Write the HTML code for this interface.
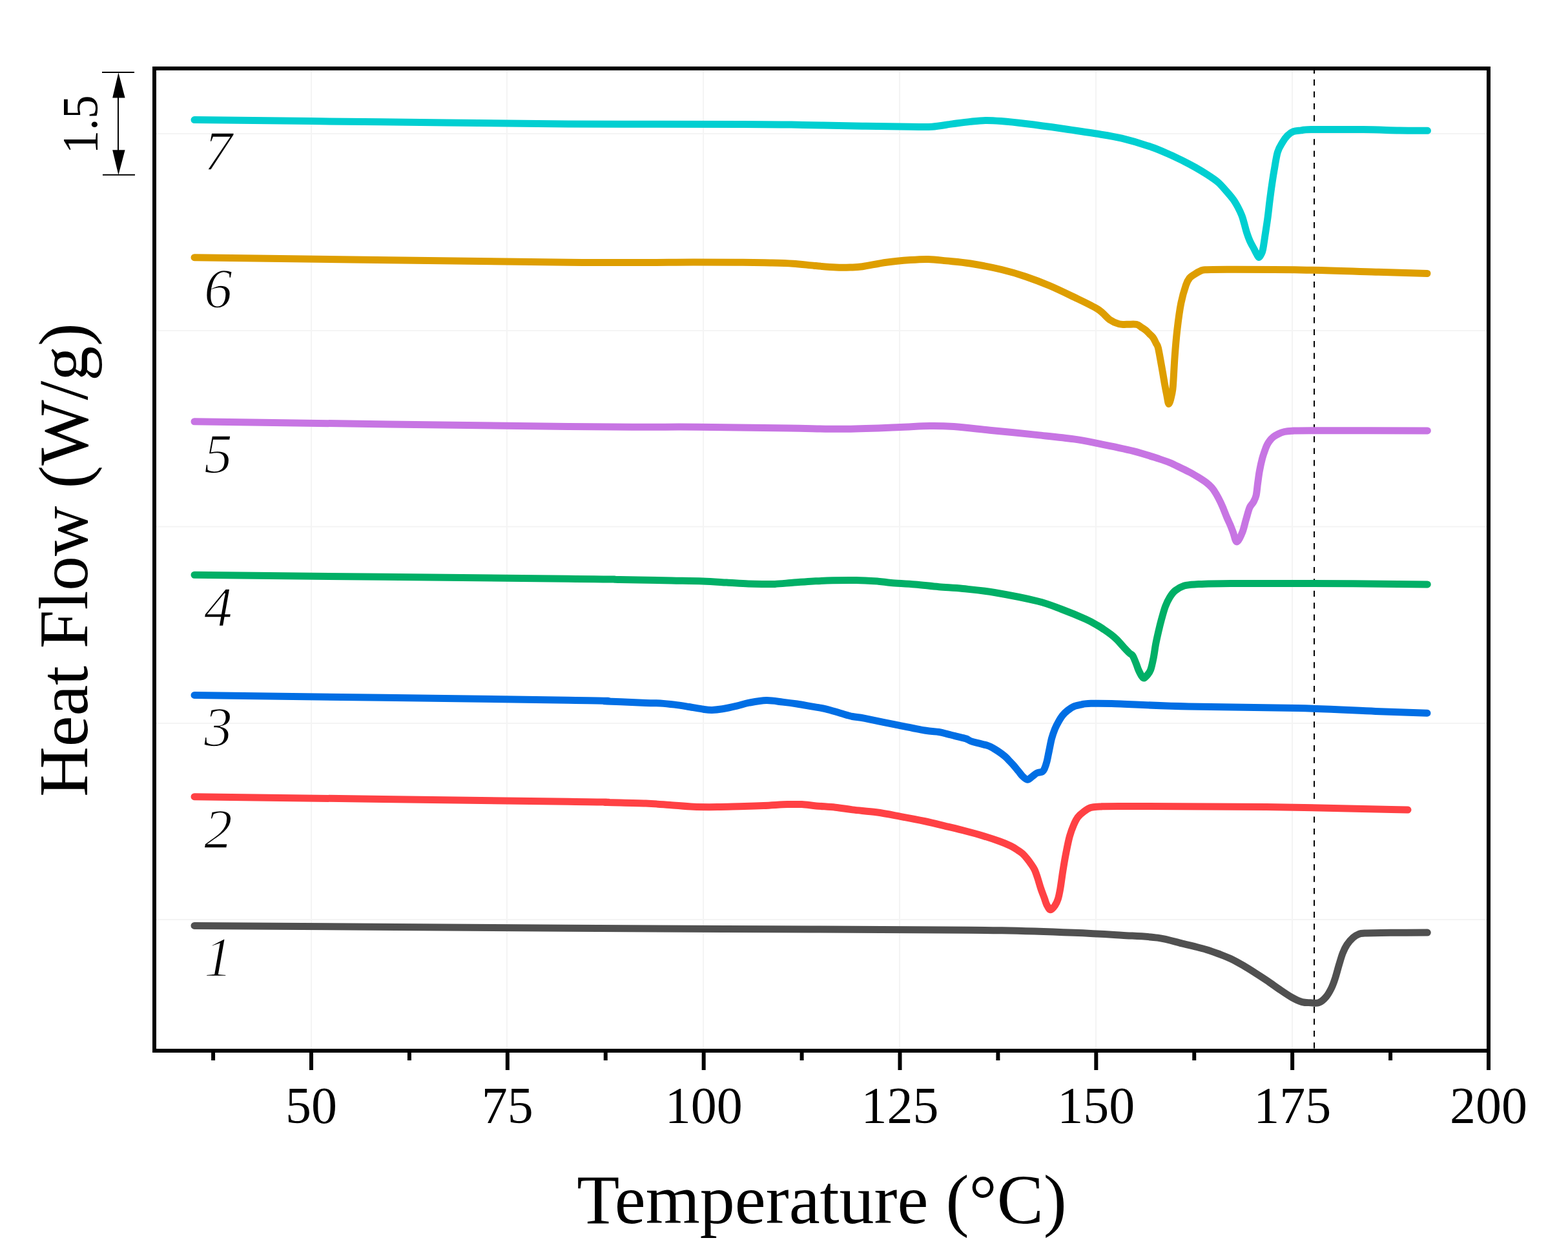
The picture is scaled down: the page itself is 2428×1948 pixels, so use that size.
<!DOCTYPE html>
<html><head><meta charset="utf-8"><title>DSC Heat Flow</title>
<style>html,body{margin:0;padding:0;background:#fff;overflow:hidden}svg{display:block}</style>
</head><body>
<svg width="2428" height="1948" viewBox="0 0 2428 1948"><rect x="0" y="0" width="2428" height="1948" fill="#ffffff"/>
<g stroke="#f4f4f4" stroke-width="2"><line x1="482.00" y1="106" x2="482.00" y2="1627"/><line x1="785.00" y1="106" x2="785.00" y2="1627"/><line x1="1089.00" y1="106" x2="1089.00" y2="1627"/><line x1="1393.00" y1="106" x2="1393.00" y2="1627"/><line x1="1697.00" y1="106" x2="1697.00" y2="1627"/><line x1="2001.00" y1="106" x2="2001.00" y2="1627"/><line x1="239" y1="207.00" x2="2305" y2="207.00"/><line x1="239" y1="512.00" x2="2305" y2="512.00"/><line x1="239" y1="815.50" x2="2305" y2="815.50"/><line x1="239" y1="1120.00" x2="2305" y2="1120.00"/><line x1="239" y1="1424.00" x2="2305" y2="1424.00"/></g>
<line x1="2035" y1="104.69" x2="2035" y2="1627" stroke="#000" stroke-width="2" stroke-dasharray="9.3 9.11"/>
<path d="M301.0,1433.4 C397.5,1434.1 731.2,1436.4 880.0,1437.3 C1028.8,1438.2 1097.3,1438.2 1194.0,1438.7 C1290.7,1439.2 1400.5,1439.8 1460.0,1440.1 C1519.5,1440.4 1517.5,1440.1 1551.3,1440.8 C1585.1,1441.5 1631.7,1443.1 1662.6,1444.3 C1693.5,1445.5 1715.1,1446.9 1736.8,1448.2 C1758.5,1449.5 1777.0,1450.0 1792.5,1452.1 C1808.0,1454.2 1820.6,1458.7 1830.0,1460.9 C1839.4,1463.1 1842.7,1463.8 1849.0,1465.4 C1855.3,1467.0 1861.7,1468.5 1868.0,1470.4 C1874.3,1472.3 1880.7,1474.6 1887.0,1477.0 C1893.3,1479.4 1899.8,1481.7 1906.1,1484.7 C1912.4,1487.7 1918.8,1491.4 1925.1,1495.1 C1931.4,1498.8 1937.8,1502.9 1944.1,1506.9 C1950.4,1510.9 1956.8,1515.0 1963.1,1519.3 C1969.4,1523.6 1975.8,1528.3 1982.1,1532.6 C1988.4,1536.9 1995.4,1541.7 2001.1,1544.9 C2006.8,1548.1 2011.5,1550.3 2016.3,1551.6 C2021.1,1552.9 2025.4,1552.5 2029.7,1552.7 C2034.0,1552.9 2038.0,1554.2 2042.0,1552.7 C2046.0,1551.2 2050.1,1547.5 2053.4,1543.6 C2056.7,1539.7 2059.6,1534.2 2062.0,1529.3 C2064.4,1524.4 2065.8,1519.9 2067.7,1514.1 C2069.6,1508.2 2071.5,1500.5 2073.4,1494.2 C2075.3,1487.9 2077.1,1481.3 2079.1,1476.1 C2081.1,1470.9 2083.0,1466.8 2085.7,1462.8 C2088.4,1458.8 2092.2,1454.6 2095.2,1451.9 C2098.2,1449.2 2100.8,1447.7 2103.8,1446.6 C2106.8,1445.5 2105.1,1445.5 2113.3,1445.1 C2121.6,1444.7 2137.1,1444.5 2153.3,1444.3 C2169.5,1444.1 2200.8,1444.1 2210.3,1444.1" fill="none" stroke="#505050" stroke-width="11" stroke-linecap="round" stroke-linejoin="round"/>
<path d="M301.0,1233.7 C397.5,1235.0 773.5,1239.7 880.0,1241.2 C986.5,1242.7 920.0,1242.0 940.0,1242.5 C960.0,1243.0 983.8,1243.3 1000.0,1244.0 C1016.2,1244.7 1024.7,1245.6 1037.1,1246.5 C1049.5,1247.4 1061.8,1248.8 1074.2,1249.3 C1086.6,1249.8 1099.5,1249.7 1111.3,1249.6 C1123.0,1249.5 1132.9,1249.1 1144.7,1248.8 C1156.5,1248.5 1169.8,1248.1 1182.3,1247.6 C1194.8,1247.1 1209.5,1245.9 1219.4,1245.6 C1229.3,1245.3 1234.2,1245.2 1241.6,1245.6 C1249.0,1246.0 1255.2,1247.1 1263.9,1247.9 C1272.6,1248.7 1284.2,1249.2 1293.6,1250.2 C1302.9,1251.2 1309.4,1252.6 1320.0,1253.9 C1330.6,1255.2 1344.7,1256.1 1357.1,1257.8 C1369.5,1259.5 1381.8,1262.0 1394.2,1264.3 C1406.6,1266.6 1419.0,1268.9 1431.3,1271.5 C1443.6,1274.1 1457.1,1277.5 1467.8,1280.1 C1478.5,1282.7 1486.4,1284.6 1495.7,1287.0 C1505.0,1289.4 1514.7,1292.0 1523.5,1294.7 C1532.3,1297.4 1541.5,1300.5 1548.5,1303.0 C1555.5,1305.5 1560.7,1307.8 1565.2,1310.0 C1569.7,1312.2 1572.7,1314.3 1575.7,1316.3 C1578.7,1318.3 1580.9,1319.6 1583.3,1321.8 C1585.7,1324.0 1588.1,1326.8 1590.3,1329.5 C1592.5,1332.2 1594.5,1334.9 1596.5,1337.8 C1598.5,1340.7 1600.4,1343.2 1602.1,1346.9 C1603.8,1350.6 1605.3,1355.2 1606.9,1360.1 C1608.5,1365.0 1610.0,1370.9 1611.8,1376.1 C1613.5,1381.3 1615.9,1387.2 1617.4,1391.4 C1618.9,1395.6 1619.4,1398.2 1620.9,1401.1 C1622.4,1404.0 1624.5,1408.6 1626.6,1408.8 C1628.7,1409.0 1631.5,1405.3 1633.4,1402.5 C1635.4,1399.7 1636.9,1396.5 1638.3,1392.1 C1639.7,1387.7 1640.5,1383.4 1641.8,1376.1 C1643.1,1368.8 1644.4,1357.6 1645.9,1348.3 C1647.4,1339.0 1649.0,1329.3 1650.8,1320.4 C1652.5,1311.5 1654.4,1301.9 1656.4,1294.7 C1658.4,1287.5 1660.5,1282.2 1662.6,1277.3 C1664.7,1272.4 1666.4,1268.9 1668.9,1265.5 C1671.5,1262.1 1674.5,1259.6 1677.9,1257.1 C1681.3,1254.6 1684.9,1251.9 1689.1,1250.6 C1693.3,1249.3 1694.5,1249.5 1703.0,1249.1 C1711.5,1248.7 1697.0,1248.3 1740.0,1248.4 C1783.0,1248.5 1892.2,1248.8 1961.2,1249.6 C2030.2,1250.4 2117.7,1252.8 2154.2,1253.5 C2190.7,1254.2 2175.7,1253.9 2180.0,1254.0" fill="none" stroke="#FF4144" stroke-width="11" stroke-linecap="round" stroke-linejoin="round"/>
<path d="M301.0,1076.4 C397.5,1077.7 773.5,1082.6 880.0,1084.2 C986.5,1085.8 920.0,1085.3 940.0,1086.0 C960.0,1086.7 986.3,1087.9 1000.0,1088.4 C1013.7,1088.9 1014.9,1088.5 1022.3,1088.9 C1029.7,1089.4 1037.1,1090.2 1044.5,1091.1 C1051.9,1092.0 1059.4,1093.3 1066.8,1094.5 C1074.2,1095.7 1083.2,1097.5 1089.1,1098.3 C1095.0,1099.1 1097.5,1099.5 1102.4,1099.4 C1107.3,1099.3 1112.3,1098.8 1118.7,1097.8 C1125.1,1096.8 1134.1,1094.8 1141.0,1093.2 C1147.9,1091.6 1152.4,1089.6 1160.0,1088.2 C1167.6,1086.8 1178.0,1084.8 1186.7,1084.6 C1195.4,1084.4 1204.1,1086.2 1212.0,1087.1 C1219.9,1088.0 1226.8,1088.9 1234.2,1090.0 C1241.6,1091.1 1249.1,1092.6 1256.5,1093.9 C1263.9,1095.2 1271.3,1096.1 1278.7,1097.8 C1286.1,1099.5 1294.1,1102.3 1301.0,1104.3 C1307.9,1106.2 1313.7,1108.2 1320.0,1109.5 C1326.3,1110.8 1328.2,1110.3 1339.1,1112.4 C1350.0,1114.5 1370.0,1118.8 1385.5,1121.9 C1401.0,1125.0 1420.5,1129.1 1431.9,1131.0 C1443.3,1132.9 1447.9,1132.5 1453.9,1133.5 C1459.9,1134.5 1463.2,1135.7 1467.8,1136.8 C1472.4,1137.9 1477.0,1139.1 1481.7,1140.3 C1486.4,1141.5 1492.0,1142.5 1495.7,1143.8 C1499.4,1145.1 1500.5,1146.7 1504.0,1147.9 C1507.5,1149.1 1512.1,1149.9 1516.5,1151.1 C1520.9,1152.3 1526.7,1153.6 1530.4,1154.9 C1534.1,1156.2 1536.0,1157.5 1538.8,1159.1 C1541.6,1160.7 1544.2,1162.4 1547.1,1164.4 C1550.0,1166.4 1553.4,1168.9 1556.2,1171.3 C1559.0,1173.7 1561.4,1176.5 1563.8,1179.0 C1566.2,1181.5 1568.6,1184.0 1570.8,1186.6 C1573.0,1189.1 1575.0,1191.8 1577.1,1194.3 C1579.2,1196.8 1581.0,1199.7 1583.3,1201.9 C1585.6,1204.1 1588.5,1207.2 1591.0,1207.3 C1593.5,1207.3 1596.2,1203.9 1598.6,1202.2 C1601.0,1200.5 1603.0,1198.3 1605.5,1197.1 C1608.0,1195.9 1611.9,1196.2 1613.9,1195.0 C1615.9,1193.8 1616.2,1192.6 1617.4,1190.1 C1618.6,1187.5 1619.7,1184.2 1620.9,1179.7 C1622.1,1175.2 1623.1,1169.0 1624.4,1163.0 C1625.7,1157.0 1627.0,1149.2 1628.5,1143.5 C1630.0,1137.8 1631.7,1133.2 1633.4,1128.9 C1635.2,1124.6 1637.0,1121.2 1639.0,1117.7 C1641.0,1114.2 1642.9,1110.9 1645.2,1108.0 C1647.5,1105.1 1650.0,1102.7 1652.9,1100.4 C1655.8,1098.1 1658.9,1095.7 1662.6,1094.1 C1666.3,1092.5 1671.4,1091.7 1675.1,1090.9 C1678.8,1090.1 1677.2,1089.7 1684.9,1089.5 C1692.6,1089.3 1695.1,1088.7 1721.1,1089.5 C1747.0,1090.3 1792.5,1092.9 1840.6,1094.1 C1888.6,1095.3 1961.2,1095.3 2009.4,1096.5 C2057.6,1097.7 2096.6,1100.1 2130.0,1101.4 C2163.4,1102.7 2196.7,1103.7 2210.0,1104.2" fill="none" stroke="#006EE4" stroke-width="11" stroke-linecap="round" stroke-linejoin="round"/>
<path d="M301.0,890.3 C397.5,891.3 770.2,895.0 880.0,896.2 C989.8,897.4 933.3,897.0 960.0,897.5 C986.7,898.0 1018.6,898.6 1040.0,899.0 C1061.4,899.4 1074.0,899.5 1088.2,900.0 C1102.4,900.5 1113.5,901.4 1125.3,902.1 C1137.0,902.8 1149.6,903.7 1158.7,904.1 C1167.8,904.5 1173.1,904.5 1180.0,904.5 C1186.9,904.5 1191.7,904.8 1200.0,904.4 C1208.3,904.0 1219.8,902.8 1229.7,902.1 C1239.6,901.4 1249.5,900.5 1259.4,900.0 C1269.3,899.5 1278.0,899.0 1289.1,898.8 C1300.2,898.5 1314.4,898.3 1326.2,898.5 C1338.0,898.7 1351.0,899.6 1360.0,900.2 C1369.0,900.9 1370.5,901.6 1380.0,902.4 C1389.5,903.2 1404.7,903.8 1417.0,904.9 C1429.3,906.0 1441.7,907.6 1454.0,908.7 C1466.3,909.8 1476.7,910.0 1491.0,911.5 C1505.3,913.0 1520.7,914.2 1540.0,917.5 C1559.3,920.8 1589.7,926.7 1607.0,931.0 C1624.3,935.3 1631.6,938.9 1644.0,943.5 C1656.4,948.1 1671.9,954.6 1681.2,958.8 C1690.5,963.0 1695.0,965.9 1699.8,968.6 C1704.5,971.3 1706.4,972.8 1709.7,975.0 C1713.0,977.2 1716.2,979.4 1719.5,981.9 C1722.8,984.4 1726.0,987.0 1729.3,990.2 C1732.6,993.4 1735.8,997.6 1739.1,1001.1 C1742.4,1004.6 1746.5,1009.0 1749.0,1011.4 C1751.5,1013.8 1752.3,1012.8 1754.0,1015.5 C1755.7,1018.2 1757.8,1023.9 1759.3,1027.6 C1760.8,1031.2 1761.4,1034.1 1762.9,1037.4 C1764.4,1040.7 1766.6,1045.1 1768.1,1047.2 C1769.5,1049.3 1770.3,1050.3 1771.6,1050.1 C1772.9,1049.9 1774.3,1048.1 1776.0,1046.0 C1777.7,1043.9 1779.9,1042.1 1781.6,1037.4 C1783.3,1032.7 1785.0,1024.3 1786.3,1017.8 C1787.6,1011.2 1788.3,1004.6 1789.5,998.1 C1790.7,991.6 1792.2,985.0 1793.7,978.5 C1795.2,972.0 1796.8,965.4 1798.6,958.8 C1800.4,952.2 1802.4,944.8 1804.5,939.1 C1806.6,933.5 1808.9,929.0 1811.4,924.9 C1813.9,920.8 1816.1,917.5 1819.7,914.6 C1823.3,911.7 1828.0,908.8 1833.0,907.2 C1838.0,905.6 1837.8,905.5 1850.0,904.9 C1862.2,904.3 1865.0,903.6 1906.0,903.4 C1947.0,903.2 2045.3,903.5 2096.0,903.8 C2146.7,904.0 2191.2,904.7 2210.3,904.9" fill="none" stroke="#00AF66" stroke-width="11" stroke-linecap="round" stroke-linejoin="round"/>
<path d="M301.0,652.8 C397.5,654.1 749.7,659.0 880.0,660.4 C1010.3,661.8 1025.7,660.8 1082.7,661.2 C1139.7,661.7 1184.7,662.6 1221.8,663.1 C1258.9,663.6 1277.5,664.5 1305.3,664.3 C1333.1,664.1 1366.3,662.5 1388.8,661.7 C1411.2,660.9 1425.3,659.7 1440.0,659.5 C1454.7,659.3 1461.5,659.5 1477.0,660.6 C1492.5,661.7 1511.1,664.0 1532.8,666.2 C1554.5,668.4 1585.4,671.3 1607.0,673.6 C1628.6,675.9 1647.1,677.7 1662.6,679.9 C1678.0,682.1 1684.2,683.5 1699.7,686.6 C1715.2,689.7 1739.9,694.7 1755.4,698.6 C1770.9,702.5 1783.2,706.8 1792.5,709.8 C1801.8,712.8 1804.8,713.7 1811.0,716.3 C1817.2,718.9 1824.7,722.7 1830.0,725.2 C1835.3,727.7 1838.5,729.2 1842.7,731.5 C1846.9,733.8 1851.2,736.2 1855.4,738.9 C1859.6,741.5 1864.6,744.7 1868.1,747.4 C1871.6,750.1 1873.9,752.1 1876.4,755.1 C1879.0,758.1 1881.2,761.5 1883.4,765.2 C1885.6,768.9 1887.9,773.4 1889.8,777.3 C1891.7,781.2 1893.1,784.8 1894.8,788.8 C1896.5,792.8 1898.2,797.5 1899.9,801.5 C1901.6,805.5 1903.4,809.1 1905.0,812.9 C1906.6,816.7 1907.8,820.0 1909.5,824.4 C1911.2,828.8 1912.8,839.0 1915.2,839.0 C1917.6,839.0 1921.4,830.0 1923.7,824.4 C1926.0,818.8 1927.3,811.7 1929.2,805.3 C1931.1,798.9 1933.0,790.9 1934.9,786.2 C1936.9,781.5 1939.2,780.5 1940.9,777.3 C1942.6,774.1 1944.0,772.0 1945.1,767.1 C1946.2,762.2 1946.7,754.5 1947.6,748.1 C1948.5,741.8 1949.2,735.4 1950.4,729.0 C1951.6,722.6 1953.2,715.2 1954.6,709.9 C1956.0,704.6 1957.5,700.7 1958.7,697.2 C1959.9,693.7 1960.8,691.4 1962.0,689.0 C1963.2,686.6 1964.4,684.7 1966.0,682.6 C1967.6,680.5 1969.6,678.4 1971.8,676.6 C1974.0,674.8 1976.6,673.4 1979.4,672.0 C1982.2,670.6 1985.4,669.3 1988.9,668.5 C1992.4,667.7 1993.6,667.5 2000.4,667.2 C2007.2,666.9 1995.0,666.8 2030.0,666.7 C2065.0,666.7 2180.3,666.9 2210.4,666.9" fill="none" stroke="#C775E3" stroke-width="11" stroke-linecap="round" stroke-linejoin="round"/>
<path d="M301.0,398.7 C397.5,399.9 751.2,405.0 880.0,406.2 C1008.8,407.4 1029.0,405.9 1074.0,405.9 C1119.0,405.9 1130.2,406.1 1150.0,406.3 C1169.8,406.5 1179.7,406.6 1192.7,406.9 C1205.7,407.2 1216.5,407.4 1227.9,408.2 C1239.3,408.9 1250.2,410.4 1261.3,411.4 C1272.4,412.4 1285.4,413.6 1294.7,414.0 C1304.0,414.4 1310.2,414.2 1317.0,414.0 C1323.8,413.8 1326.2,414.0 1335.5,412.7 C1344.8,411.4 1360.2,408.0 1372.6,406.3 C1385.0,404.6 1398.9,403.4 1409.7,402.6 C1420.5,401.8 1428.3,401.3 1437.6,401.5 C1446.9,401.7 1454.6,402.8 1465.4,403.9 C1476.2,405.0 1488.2,405.7 1502.5,408.0 C1516.8,410.3 1536.8,414.1 1551.0,417.5 C1565.2,420.9 1575.6,424.0 1588.0,428.2 C1600.4,432.4 1613.1,437.2 1625.5,442.5 C1637.9,447.8 1650.2,453.8 1662.6,459.8 C1675.0,465.8 1690.4,472.8 1699.7,478.7 C1709.0,484.6 1712.8,491.1 1718.3,495.0 C1723.8,498.9 1728.5,500.6 1733.0,501.8 C1737.5,503.0 1740.5,502.2 1745.0,502.3 C1749.5,502.4 1756.4,501.7 1760.1,502.4 C1763.8,503.1 1764.8,505.1 1767.1,506.6 C1769.4,508.1 1771.8,509.5 1774.0,511.3 C1776.2,513.1 1778.2,515.3 1780.2,517.3 C1782.2,519.3 1784.1,520.8 1785.8,523.2 C1787.5,525.6 1788.9,529.2 1790.2,531.8 C1791.5,534.4 1792.0,533.0 1793.4,538.8 C1794.8,544.6 1796.9,557.2 1798.6,566.5 C1800.3,575.8 1802.1,586.9 1803.4,594.3 C1804.7,601.7 1805.5,605.7 1806.6,610.9 C1807.7,616.1 1808.7,625.8 1810.1,625.3 C1811.5,624.8 1813.9,613.4 1815.0,608.2 C1816.1,603.0 1815.9,603.6 1816.6,594.3 C1817.3,585.0 1818.1,566.5 1819.1,552.6 C1820.1,538.7 1821.2,524.9 1822.8,511.0 C1824.4,497.1 1826.5,481.0 1828.8,469.4 C1831.1,457.8 1834.2,448.1 1836.4,441.6 C1838.6,435.1 1839.7,433.4 1842.0,430.5 C1844.3,427.6 1847.5,426.1 1850.3,424.3 C1853.1,422.5 1856.0,420.8 1858.7,419.7 C1861.4,418.6 1859.4,418.2 1866.3,417.8 C1873.2,417.4 1875.5,417.3 1900.0,417.3 C1924.5,417.3 1975.2,417.2 2013.6,417.9 C2052.0,418.5 2097.8,420.3 2130.5,421.2 C2163.2,422.1 2196.8,423.0 2210.0,423.4" fill="none" stroke="#DE9E00" stroke-width="11" stroke-linecap="round" stroke-linejoin="round"/>
<path d="M301.0,185.6 C349.2,186.1 493.5,187.7 590.0,188.8 C686.5,189.9 786.7,191.4 880.0,192.0 C973.3,192.6 1089.5,192.2 1150.0,192.4 C1210.5,192.6 1211.9,192.9 1242.8,193.4 C1273.7,193.9 1307.7,194.7 1335.5,195.2 C1363.3,195.7 1391.8,196.0 1409.7,196.2 C1427.6,196.4 1432.3,196.9 1443.1,196.2 C1453.9,195.5 1464.8,193.2 1474.7,191.9 C1484.6,190.6 1493.8,189.3 1502.5,188.4 C1511.2,187.5 1518.7,186.6 1526.6,186.5 C1534.5,186.4 1539.8,186.8 1550.0,187.6 C1560.2,188.4 1572.3,189.6 1588.0,191.5 C1603.7,193.4 1626.0,196.4 1644.0,199.0 C1662.0,201.6 1680.5,204.3 1696.0,206.8 C1711.5,209.3 1722.5,210.7 1737.0,214.2 C1751.5,217.7 1770.7,223.5 1783.0,227.7 C1795.3,231.9 1803.2,235.8 1811.0,239.2 C1818.8,242.6 1823.4,244.9 1830.0,248.2 C1836.6,251.5 1844.3,255.5 1850.8,259.1 C1857.2,262.7 1862.8,266.1 1868.7,269.9 C1874.6,273.7 1881.0,277.8 1886.0,282.1 C1891.0,286.5 1895.1,291.6 1899.0,296.0 C1902.9,300.4 1906.4,304.5 1909.4,308.6 C1912.4,312.7 1914.5,316.5 1916.8,320.7 C1919.0,324.9 1921.2,329.4 1922.9,333.7 C1924.6,338.0 1925.5,342.4 1926.8,346.7 C1928.0,351.0 1929.0,355.4 1930.4,359.7 C1931.8,364.0 1933.3,368.3 1935.2,372.7 C1937.1,377.1 1940.2,382.3 1942.0,385.8 C1943.8,389.3 1944.8,391.4 1946.0,393.5 C1947.2,395.6 1948.2,398.4 1949.3,398.5 C1950.4,398.6 1951.8,396.1 1952.8,394.0 C1953.8,391.9 1954.6,390.8 1955.6,385.8 C1956.6,380.8 1957.8,372.1 1959.0,364.1 C1960.2,356.2 1961.7,346.8 1962.9,338.1 C1964.1,329.4 1964.9,320.7 1966.0,312.0 C1967.1,303.3 1968.3,293.9 1969.5,286.0 C1970.7,278.1 1971.4,272.7 1972.9,264.3 C1974.4,255.9 1976.2,242.8 1978.4,235.5 C1980.6,228.2 1983.5,224.5 1986.0,220.2 C1988.5,215.9 1990.9,212.6 1993.7,209.8 C1996.5,207.0 1999.2,204.9 2002.7,203.6 C2006.2,202.3 2010.0,202.4 2014.5,201.9 C2019.0,201.4 2013.9,200.8 2030.0,200.6 C2046.1,200.4 2088.2,200.4 2111.0,200.6 C2133.8,200.8 2150.4,201.7 2167.0,202.0 C2183.6,202.3 2203.2,202.2 2210.5,202.3" fill="none" stroke="#00CFD1" stroke-width="11" stroke-linecap="round" stroke-linejoin="round"/>
<rect x="239" y="106" width="2066" height="1521" fill="none" stroke="#000" stroke-width="6"/>
<g stroke="#000" stroke-width="6"><line x1="482.00" y1="1627" x2="482.00" y2="1657"/><line x1="785.83" y1="1627" x2="785.83" y2="1657"/><line x1="1089.66" y1="1627" x2="1089.66" y2="1657"/><line x1="1393.49" y1="1627" x2="1393.49" y2="1657"/><line x1="1697.32" y1="1627" x2="1697.32" y2="1657"/><line x1="2001.15" y1="1627" x2="2001.15" y2="1657"/><line x1="2304.98" y1="1627" x2="2304.98" y2="1657"/><line x1="330.09" y1="1627" x2="330.09" y2="1642"/><line x1="633.91" y1="1627" x2="633.91" y2="1642"/><line x1="937.75" y1="1627" x2="937.75" y2="1642"/><line x1="1241.58" y1="1627" x2="1241.58" y2="1642"/><line x1="1545.40" y1="1627" x2="1545.40" y2="1642"/><line x1="1849.23" y1="1627" x2="1849.23" y2="1642"/><line x1="2153.07" y1="1627" x2="2153.07" y2="1642"/></g>
<g font-family="Liberation Serif, serif" font-size="80" text-anchor="middle" fill="#000"><text x="482.00" y="1739">50</text><text x="785.83" y="1739">75</text><text x="1089.66" y="1739">100</text><text x="1393.49" y="1739">125</text><text x="1697.32" y="1739">150</text><text x="2001.15" y="1739">175</text><text x="2304.98" y="1739">200</text></g>
<g font-family="Liberation Serif, serif" font-style="italic" font-size="87.5" fill="#000" stroke="#fff" stroke-width="1.6"><text x="316" y="263.2">7</text><text x="316" y="476.2">6</text><text x="316" y="732.2">5</text><text x="316" y="969.2">4</text><text x="316" y="1155.2">3</text><text x="316" y="1312.7">2</text><text x="316" y="1511.2">1</text></g>
<text x="1272.5" y="1894" font-family="Liberation Serif, serif" font-size="108" text-anchor="middle" fill="#000">Temperature (°C)</text>
<text transform="translate(135,867) rotate(-90)" x="0" y="0" font-family="Liberation Serif, serif" font-size="107.4" text-anchor="middle" fill="#000">Heat Flow (W/g)</text>
<line x1="158" y1="112" x2="208" y2="112" stroke="#000" stroke-width="2"/><line x1="159" y1="270.8" x2="209" y2="270.8" stroke="#000" stroke-width="2"/><line x1="183" y1="140" x2="183" y2="240" stroke="#000" stroke-width="2"/><polygon points="183.4,112.6 193.6,151.6 174.2,151.6" fill="#000"/><polygon points="183.4,270.7 193.6,232.3 174.2,232.3" fill="#000"/><text transform="translate(149.5,192.8) rotate(-90) scale(0.93,1)" x="0" y="0" font-family="Liberation Serif, serif" font-size="78" text-anchor="middle" fill="#000">1.5</text></svg>
</body></html>
